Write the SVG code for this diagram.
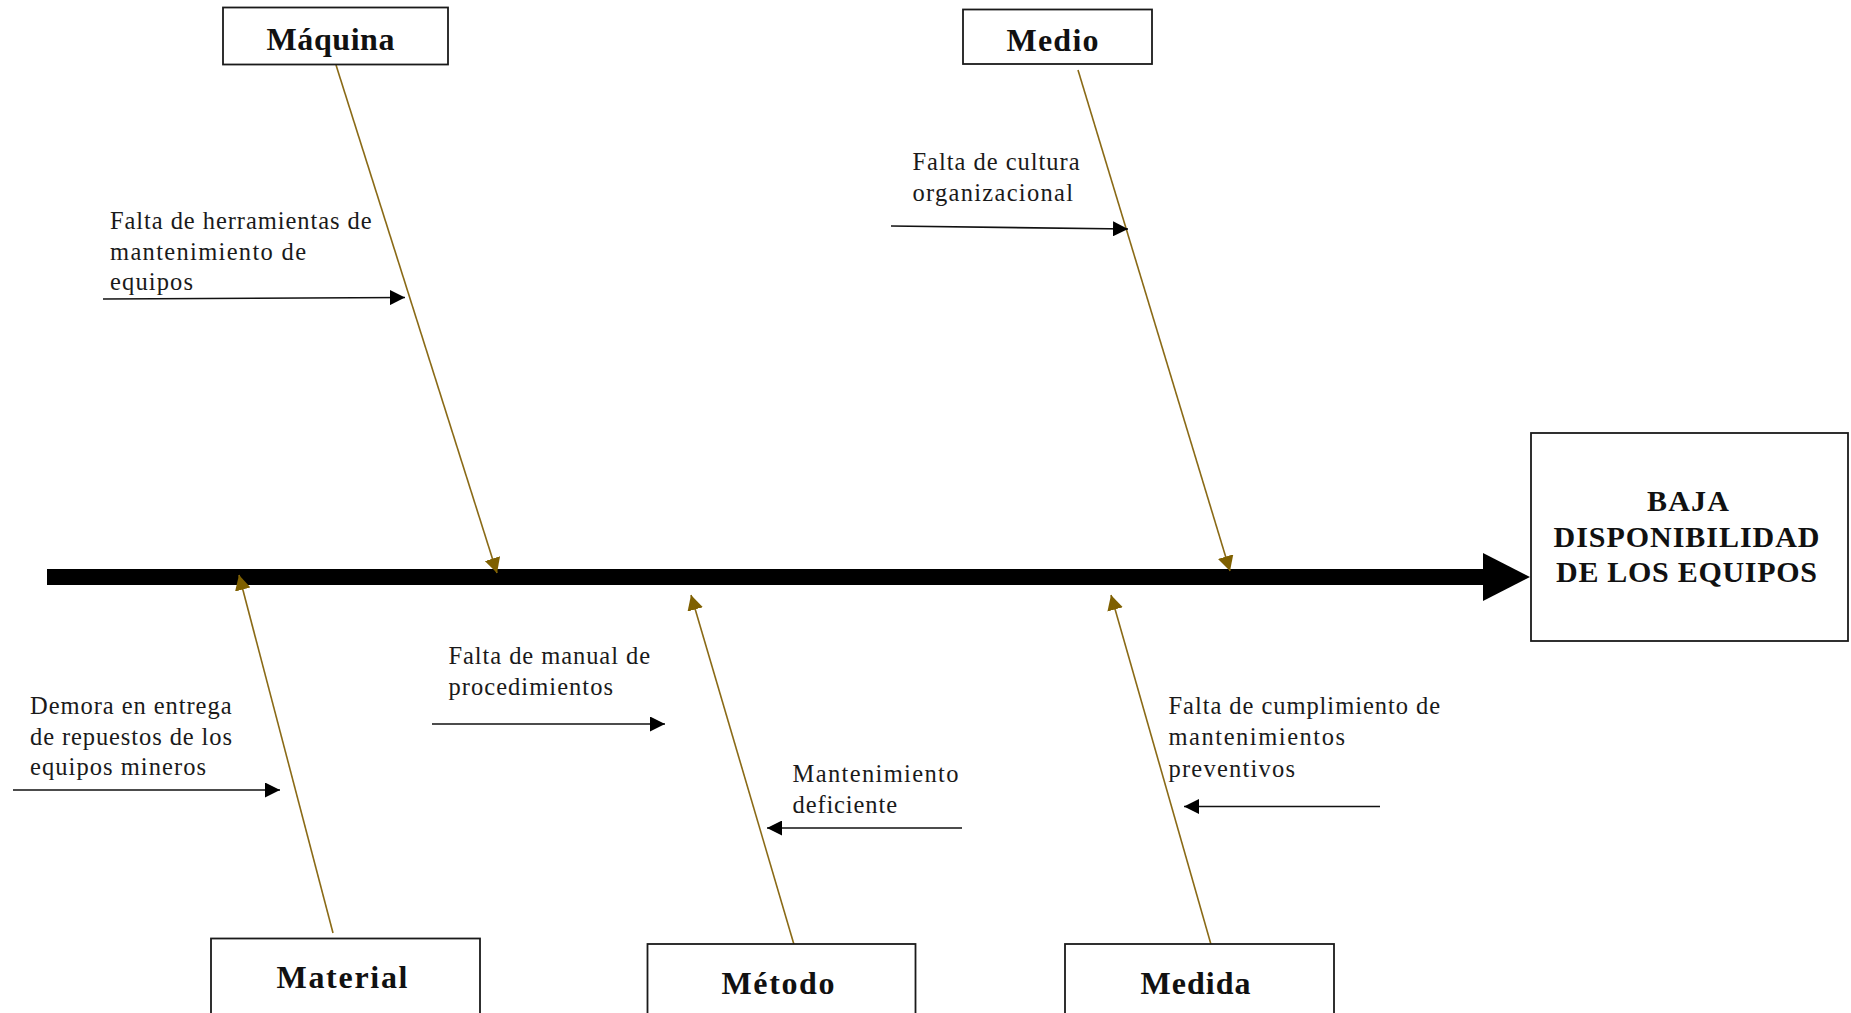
<svg xmlns="http://www.w3.org/2000/svg" width="1851" height="1013" viewBox="0 0 1851 1013">
<style>
.box{fill:#fff;stroke:#1a1a1a;stroke-width:1.8}
.lbl{font-family:"Liberation Serif","Times New Roman",serif;font-weight:bold;font-size:32px;fill:#111}
.eff{font-family:"Liberation Serif","Times New Roman",serif;font-weight:bold;font-size:30px;fill:#111}
.cause{font-family:"Liberation Serif","Times New Roman",serif;font-size:24.5px;fill:#1a1a1a}
.bone{stroke:#8a6a16;stroke-width:1.6;fill:none;marker-end:url(#ab)}
.carr{stroke:#111;stroke-width:1.6;fill:none;marker-end:url(#ak)}
</style>
<defs>
<marker id="ak" viewBox="0 0 15 15" refX="15" refY="7.5" markerWidth="15" markerHeight="15" markerUnits="userSpaceOnUse" orient="auto">
<path d="M0,0 L15,7.5 L0,15 z" fill="#000"/>
</marker>
<marker id="ab" viewBox="0 0 15 16" refX="15" refY="8" markerWidth="15" markerHeight="16" markerUnits="userSpaceOnUse" orient="auto">
<path d="M0,0 L15,8 L0,16 z" fill="#7f6000"/>
</marker>
</defs>
<rect width="1851" height="1013" fill="#fff"/>

<g id="spine">
<rect x="47" y="569" width="1437" height="16" fill="#000"/>
<polygon points="1483,553 1530,577 1483,601" fill="#000"/>
</g>

<g id="connectors">
<line class="bone" x1="336" y1="65" x2="497" y2="573"/>
<line class="bone" x1="1078" y1="70" x2="1230" y2="571"/>
<line class="bone" x1="333" y1="933" x2="239" y2="575"/>
<line class="bone" x1="795" y1="948" x2="691" y2="595"/>
<line class="bone" x1="1212" y1="948" x2="1111" y2="595"/>
<line class="carr" x1="103" y1="299" x2="405" y2="297.5"/>
<line class="carr" x1="891" y1="226" x2="1128" y2="229"/>
<line class="carr" x1="13" y1="790" x2="280" y2="790"/>
<line class="carr" x1="432" y1="724" x2="665" y2="724"/>
<line class="carr" x1="962" y1="828" x2="767" y2="828"/>
<line class="carr" x1="1380" y1="806.5" x2="1184" y2="806.5"/>
</g>

<g id="effect">
<rect class="box" x="1531" y="433" width="317" height="208"/>
<text class="eff" x="1647" y="511" textLength="82" lengthAdjust="spacing">BAJA</text>
<text class="eff" x="1553.5" y="546.5" textLength="266" lengthAdjust="spacing">DISPONIBILIDAD</text>
<text class="eff" x="1556" y="582" textLength="261" lengthAdjust="spacing">DE LOS EQUIPOS</text>
</g>

<g id="maquina">
<rect class="box" x="223" y="7.5" width="225" height="57"/>
<text class="lbl" x="266.5" y="49.5" textLength="128" lengthAdjust="spacing">Máquina</text>
</g>

<g id="medio">
<rect class="box" x="963" y="9.5" width="189" height="54.5"/>
<text class="lbl" x="1006.5" y="51" textLength="92" lengthAdjust="spacing">Medio</text>
</g>

<g id="material">
<rect class="box" x="211" y="938.5" width="269" height="90"/>
<text class="lbl" x="276.5" y="987.5" textLength="131" lengthAdjust="spacing">Material</text>
</g>

<g id="metodo">
<rect class="box" x="647.5" y="944" width="268" height="90"/>
<text class="lbl" x="721.5" y="993.5" textLength="113" lengthAdjust="spacing">Método</text>
</g>

<g id="medida">
<rect class="box" x="1065" y="944" width="269" height="90"/>
<text class="lbl" x="1140.5" y="993.5" textLength="110" lengthAdjust="spacing">Medida</text>
</g>

<g id="cause-herramientas">
<text class="cause" x="110" y="228.5" textLength="261.5" lengthAdjust="spacing">Falta de herramientas de</text>
<text class="cause" x="110" y="260" textLength="196" lengthAdjust="spacing">mantenimiento de</text>
<text class="cause" x="110" y="290" textLength="83" lengthAdjust="spacing">equipos</text>
</g>

<g id="cause-cultura">
<text class="cause" x="912.5" y="170" textLength="167" lengthAdjust="spacing">Falta de cultura</text>
<text class="cause" x="912.5" y="200.5" textLength="160.5" lengthAdjust="spacing">organizacional</text>
</g>

<g id="cause-demora">
<text class="cause" x="30" y="713.5" textLength="201.5" lengthAdjust="spacing">Demora en entrega</text>
<text class="cause" x="30" y="745" textLength="202" lengthAdjust="spacing">de repuestos de los</text>
<text class="cause" x="30" y="775" textLength="176" lengthAdjust="spacing">equipos mineros</text>
</g>

<g id="cause-manual">
<text class="cause" x="448.5" y="663.5" textLength="201.5" lengthAdjust="spacing">Falta de manual de</text>
<text class="cause" x="448.5" y="695" textLength="164.5" lengthAdjust="spacing">procedimientos</text>
</g>

<g id="cause-mantenimiento">
<text class="cause" x="792.5" y="781.5" textLength="166" lengthAdjust="spacing">Mantenimiento</text>
<text class="cause" x="792.5" y="812.5" textLength="104.5" lengthAdjust="spacing">deficiente</text>
</g>

<g id="cause-cumplimiento">
<text class="cause" x="1168.5" y="713.5" textLength="271.5" lengthAdjust="spacing">Falta de cumplimiento de</text>
<text class="cause" x="1168.5" y="745" textLength="176.5" lengthAdjust="spacing">mantenimientos</text>
<text class="cause" x="1168.5" y="776.5" textLength="126.5" lengthAdjust="spacing">preventivos</text>
</g>
</svg>
